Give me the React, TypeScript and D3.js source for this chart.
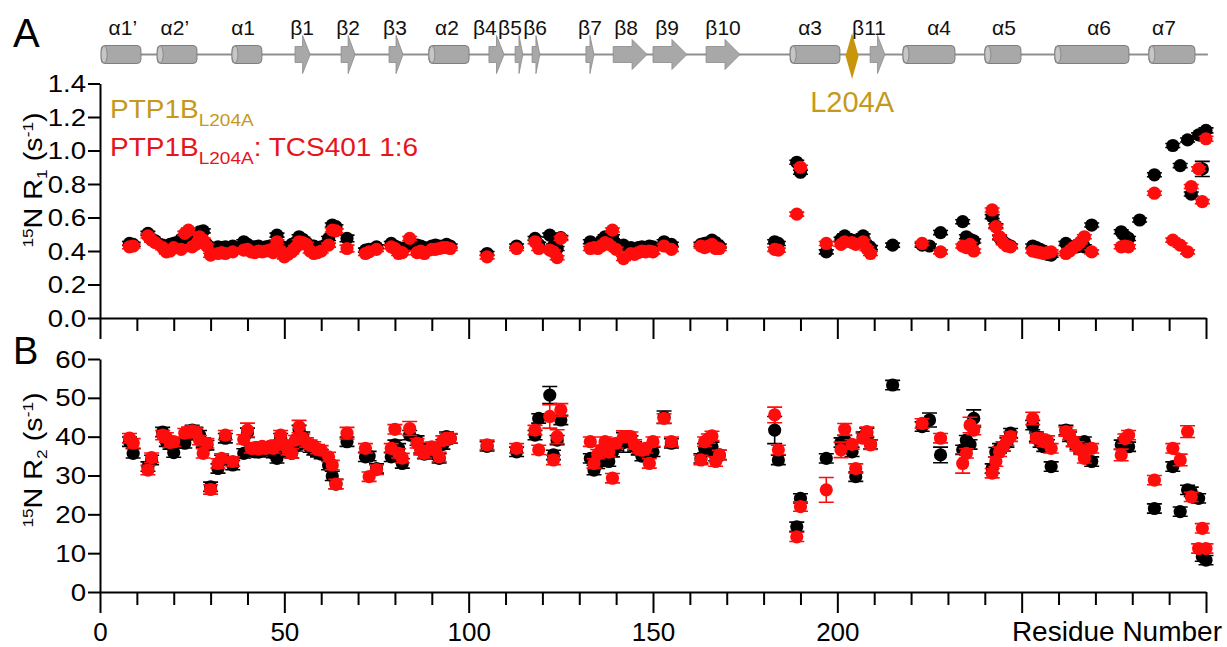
import { useEffect, useRef } from "react";
import * as d3 from "d3";

const FONT = "'Liberation Sans', Arial, Helvetica, sans-serif";
const gold = "#c49a1c";
const red = "#ff0d0d";
const txtRed = "#e8141c";

// secondary structure: [label, start residue, end residue, label anchor residue]
const helices: [string, number, number, number][] = [
    ["α1’", 0.3, 11.1, 6.2],
    ["α2’", 15.5, 26.3, 20.3],
    ["α1", 35.8, 43.9, 38.8],
    ["α2", 89.2, 100.1, 94.1],
    ["α3", 187.2, 200.7, 192.6],
    ["α4", 217.8, 231.9, 227.6],
    ["α5", 240, 249.8, 245.2],
    ["α6", 259, 279.1, 271],
    ["α7", 284.5, 297, 288.6],
];
const strands: [string, number, number, number][] = [
    ["β1", 52.9, 57, 54.8],
    ["β2", 65.4, 69.2, 67.3],
    ["β3", 78.4, 82.2, 80],
    ["β4", 105.5, 109.6, 104.4],
    ["β5", 112.6, 114.7, 111.2],
    ["β6", 117.2, 119.3, 118],
    ["β7", 131.8, 134, 132.9],
    ["β8", 139.2, 148.4, 142.7],
    ["β9", 150, 159.2, 153.8],
    ["β10", 164.4, 173.6, 169],
    ["β11", 208.9, 212.9, 208.6],
];
const mutationSite = 204;

// [residue, value, error?]  R1 (s-1)
const r1Black: number[][] = [
    [8, 0.445], [9, 0.44], [13, 0.505], [14, 0.47], [15, 0.46], [17, 0.435], [18, 0.415], [19, 0.44],
    [20, 0.445], [22, 0.47], [23, 0.48], [24, 0.47], [25, 0.445], [26, 0.5], [27, 0.515], [28, 0.52],
    [29, 0.44], [30, 0.415], [32, 0.425], [33, 0.42], [34, 0.425], [36, 0.43], [39, 0.455], [40, 0.44],
    [41, 0.425], [42, 0.425], [43, 0.43], [44, 0.42], [45, 0.425], [46, 0.43], [47, 0.42], [48, 0.495],
    [49, 0.43], [50, 0.415], [51, 0.42], [52, 0.44], [53, 0.45], [54, 0.485], [55, 0.47], [56, 0.45],
    [57, 0.425], [58, 0.43], [59, 0.42], [60, 0.425], [62, 0.475], [63, 0.555], [64, 0.545], [67, 0.475, 0.02],
    [72, 0.405], [73, 0.41], [75, 0.425], [79, 0.445], [80, 0.43], [81, 0.42], [82, 0.41], [84, 0.44],
    [86, 0.435], [87, 0.43], [88, 0.42], [90, 0.43], [91, 0.435], [92, 0.43], [93, 0.43], [94, 0.44],
    [95, 0.43], [105, 0.385], [113, 0.43], [118, 0.475], [119, 0.44], [122, 0.495], [123, 0.43], [124, 0.415],
    [125, 0.48], [133, 0.455], [134, 0.43], [135, 0.44], [136, 0.46], [137, 0.485], [138, 0.47], [139, 0.485],
    [140, 0.44], [142, 0.435], [144, 0.42], [145, 0.41], [146, 0.42], [147, 0.425], [148, 0.415], [149, 0.43],
    [150, 0.425], [153, 0.455], [155, 0.44], [163, 0.44], [164, 0.445], [165, 0.45], [166, 0.465], [167, 0.45],
    [168, 0.43], [183, 0.455], [184, 0.445], [189, 0.93], [190, 0.87], [197, 0.395], [201, 0.47], [202, 0.49],
    [204, 0.465], [205, 0.46], [207, 0.49], [208, 0.44], [209, 0.42], [215, 0.435], [223, 0.435], [225, 0.43],
    [228, 0.51], [234, 0.575], [235, 0.485], [236, 0.47], [237, 0.46], [242, 0.605], [243, 0.55], [244, 0.48],
    [245, 0.455], [246, 0.44], [247, 0.43], [253, 0.43], [254, 0.42], [255, 0.41], [256, 0.4], [257, 0.38],
    [258, 0.375], [262, 0.445], [263, 0.43], [264, 0.425], [265, 0.425], [266, 0.43], [267, 0.425], [269, 0.555],
    [277, 0.515], [278, 0.49], [279, 0.475], [282, 0.585], [286, 0.855], [291, 1.03], [293, 0.91], [295, 1.063],
    [296, 0.74], [298, 1.093], [299, 0.89, 0.045], [300, 1.12, 0.015],
];
const r1Red: number[][] = [
    [8, 0.425], [9, 0.43], [13, 0.49], [14, 0.465], [15, 0.45], [17, 0.42], [18, 0.395], [19, 0.4],
    [20, 0.42], [22, 0.41], [23, 0.505], [24, 0.525], [25, 0.425], [26, 0.44], [27, 0.485], [28, 0.465],
    [29, 0.43], [30, 0.375], [32, 0.385], [33, 0.39], [34, 0.385], [36, 0.395], [39, 0.405], [40, 0.41],
    [41, 0.395], [42, 0.39], [43, 0.4], [44, 0.395], [45, 0.4], [46, 0.405], [47, 0.39], [48, 0.455],
    [49, 0.4], [50, 0.365], [51, 0.38], [52, 0.395], [53, 0.42], [54, 0.455], [55, 0.45], [56, 0.44],
    [57, 0.4], [58, 0.385], [59, 0.39], [60, 0.4], [62, 0.435], [63, 0.525], [64, 0.52], [67, 0.415, 0.02],
    [72, 0.385], [73, 0.395], [75, 0.41], [79, 0.425], [80, 0.415], [81, 0.385], [82, 0.39], [84, 0.475],
    [86, 0.39], [87, 0.4], [88, 0.385], [90, 0.41], [91, 0.41], [92, 0.415], [93, 0.42], [94, 0.42],
    [95, 0.415], [105, 0.365], [113, 0.415], [118, 0.455], [119, 0.415], [122, 0.405], [123, 0.395], [124, 0.36],
    [125, 0.475], [133, 0.415], [134, 0.42], [135, 0.415], [136, 0.43], [137, 0.45], [138, 0.44], [139, 0.525],
    [140, 0.41], [142, 0.355], [144, 0.385], [145, 0.38], [146, 0.39], [147, 0.4], [148, 0.395], [149, 0.4],
    [150, 0.395], [153, 0.43], [155, 0.41], [163, 0.43], [164, 0.42], [165, 0.43], [166, 0.44], [167, 0.415],
    [168, 0.415], [183, 0.41], [184, 0.405], [189, 0.62], [190, 0.9], [197, 0.445], [201, 0.44], [202, 0.455],
    [204, 0.45], [205, 0.44], [207, 0.455], [208, 0.415], [209, 0.385], [223, 0.445], [228, 0.395], [234, 0.43],
    [235, 0.42], [236, 0.44], [237, 0.4], [242, 0.645], [243, 0.545], [244, 0.485], [245, 0.45], [246, 0.43],
    [247, 0.425], [253, 0.4], [254, 0.395], [255, 0.39], [256, 0.385], [257, 0.39], [258, 0.395], [262, 0.385],
    [263, 0.4], [264, 0.42], [265, 0.435], [266, 0.455], [267, 0.485], [269, 0.395], [277, 0.425], [278, 0.43],
    [279, 0.425], [286, 0.745], [291, 0.465], [293, 0.435], [295, 0.395], [296, 0.785], [298, 0.89], [299, 0.695],
    [300, 1.07, 0.015],
];

// [residue, value, error?]  R2 (s-1)
const r2Black: number[][] = [
    [8, 38.7], [9, 35.7], [13, 32.3], [14, 34], [17, 41.2], [18, 38.7], [19, 38], [20, 35.9],
    [23, 38.3], [24, 40.5], [25, 41.7], [26, 41.2], [27, 40.4], [28, 38.5], [29, 37.8], [30, 27.1],
    [32, 31.8], [33, 34], [34, 39.6], [36, 32.7], [39, 35.7], [40, 41], [41, 36.5], [42, 36.1],
    [43, 36], [44, 37.2], [45, 36.5], [46, 37], [47, 35.8], [48, 34.4], [49, 39.6], [50, 37],
    [51, 36], [52, 35.7], [53, 37.5], [54, 41.7], [55, 40], [56, 38], [57, 37.2], [58, 36.5],
    [59, 36], [60, 35.5], [62, 32.7], [63, 29.9], [64, 27.8], [67, 38.7], [72, 34.8], [73, 35],
    [75, 31.8], [79, 34.8], [80, 37.9], [81, 37], [82, 33.1], [84, 40.4], [86, 39], [87, 37],
    [88, 35.5], [90, 36], [91, 35.5], [92, 34.4], [93, 38], [94, 40], [95, 39.5], [105, 37.5],
    [113, 36.1], [118, 40.4], [119, 44.7], [122, 50.7, 2.2], [123, 35.3], [124, 39.1], [125, 44.3], [133, 34.4],
    [134, 31.4], [135, 33], [136, 35], [137, 36], [138, 33.6], [139, 36], [140, 37.6], [142, 38.5, 2.5],
    [144, 39], [145, 37.5], [146, 36.5], [147, 35], [148, 35.5], [149, 36], [150, 36.1], [153, 45, 1.6],
    [155, 38.3], [163, 34.4], [164, 37], [165, 36.5], [166, 37.4], [167, 35], [168, 35.3], [183, 41.7, 3.5],
    [184, 34], [189, 16.8], [190, 24.1], [197, 34.4], [201, 38.5], [202, 39.1], [204, 36.1], [205, 29.7],
    [207, 40], [208, 41], [209, 38], [215, 53.3], [223, 42.6], [225, 44.3, 1.8], [228, 35.3, 2], [234, 36.6],
    [235, 39.1], [236, 38], [237, 44.7, 2.2], [242, 31.8], [243, 36], [244, 37], [245, 37.5], [246, 38.5],
    [247, 40.9], [253, 43], [254, 40], [255, 38.5], [256, 37.4], [257, 38], [258, 32.3], [262, 41.7],
    [263, 40], [264, 38.7], [265, 38], [266, 37], [267, 38.7], [269, 33.6], [277, 37.9], [278, 38.5],
    [279, 37.4], [286, 21.5], [291, 32.3], [293, 20.7], [295, 26.3], [296, 25.8], [298, 24.1], [299, 9.1],
    [300, 8.2],
];
const r2Red: number[][] = [
    [8, 39.6], [9, 38.3], [13, 31.4], [14, 34.6], [17, 40.4], [18, 39.8], [19, 38.5], [20, 38.7],
    [23, 40.9], [24, 41.3], [25, 41.5], [26, 41], [27, 39.1], [28, 35.7], [29, 38.3], [30, 26.4],
    [32, 33.1], [33, 34.4], [34, 40.4], [36, 33.6], [39, 39.3], [40, 41.7, 1.8], [41, 37], [42, 37.2],
    [43, 36.8], [44, 37.5], [45, 37], [46, 37.5], [47, 37], [48, 37.9], [49, 40.4], [50, 37.9],
    [51, 36.5], [52, 35.7], [53, 39.1], [54, 42.6, 1.6], [55, 39.5], [56, 38.5], [57, 37.9], [58, 37.5],
    [59, 36.8], [60, 36.5], [62, 34.8], [63, 32.7], [64, 27.8], [67, 40.9, 1.5], [72, 37], [73, 29.7],
    [75, 31.5], [79, 37], [80, 41.9], [81, 35.7], [82, 34.5], [84, 42.1, 1.8], [86, 38.3], [87, 36.5],
    [88, 35.7], [90, 37.4], [91, 36.5], [92, 34.8], [93, 39], [94, 39.6], [95, 39.6], [105, 37.9],
    [113, 37], [118, 41.7], [119, 36.6], [122, 45.2, 3], [123, 34], [124, 40, 1.8], [125, 46.9, 1.6], [133, 38.7],
    [134, 33.1], [135, 35.5], [136, 36.6], [137, 38.7], [138, 36], [139, 29.3], [140, 38.3], [142, 40, 1.5],
    [144, 40], [145, 38], [146, 37], [147, 36.5], [148, 37], [149, 33.1], [150, 38.7], [153, 44.7],
    [155, 38.7], [163, 34], [164, 38.7], [165, 39.5], [166, 40.2], [167, 33.6], [168, 35.3], [183, 45.6, 2],
    [184, 36.6], [189, 14.2], [190, 22], [197, 26.3, 3.2], [201, 36.6, 2], [202, 41.9, 1.5], [204, 38], [205, 31.8],
    [207, 39.6], [208, 41.3], [209, 37.9], [223, 43.4], [228, 39.6], [234, 33.1, 2.5], [235, 35.7], [236, 43, 2],
    [237, 41.7], [242, 30.6], [243, 33.6], [244, 36.1], [245, 37.5], [246, 39], [247, 40], [253, 44.7, 1.6],
    [254, 39.6], [255, 39.5], [256, 38.7], [257, 39], [258, 37], [262, 41.3], [263, 40.5], [264, 38.7],
    [265, 37.5], [266, 36.6], [267, 34.4], [269, 37], [277, 35.3, 1.5], [278, 39.5], [279, 40.4], [286, 28.8],
    [291, 37], [293, 34, 1.5], [295, 41.3, 1.5], [296, 24.5], [298, 11.2], [299, 16.4], [300, 11.2],
];

function App() {
    const svgRef = useRef<SVGSVGElement>(null);

    useEffect(() => {
        const svg = d3.select(svgRef.current);
        svg.selectAll("*").remove();

        const x = d3.scaleLinear().domain([0, 300]).range([100, 1206]);
        const yA = d3.scaleLinear().domain([0, 1.4]).range([318, 83.5]);
        const yB = d3.scaleLinear().domain([0, 60]).range([592, 359]);

        // ---------- secondary structure strip ----------
        const ss = svg.append("g");
        const cy = 54.5;
        ss.append("line")
            .attr("x1", x(0.3)).attr("x2", x(300.5))
            .attr("y1", cy).attr("y2", cy)
            .attr("stroke", "#8f8f8f").attr("stroke-width", 2);

        helices.forEach(([, s, e]) => {
            ss.append("rect")
                .attr("x", x(s)).attr("y", cy - 9)
                .attr("width", x(e) - x(s)).attr("height", 18)
                .attr("rx", 4)
                .attr("fill", "#a8a8a8").attr("stroke", "#7d7d7d").attr("stroke-width", 1);
            ss.append("ellipse")
                .attr("cx", x(s) + 3).attr("cy", cy)
                .attr("rx", 3).attr("ry", 8.5)
                .attr("fill", "#c6c6c6").attr("stroke", "#7d7d7d").attr("stroke-width", 0.8);
        });

        strands.forEach(([, s, e]) => {
            const x0 = x(s), x1 = x(e);
            const w = x1 - x0;
            const head = Math.min(15, w * 0.5);
            const hh = w > 25 ? 15 : 19;
            const p = d3.path();
            p.moveTo(x0, cy - 8);
            p.lineTo(x1 - head, cy - 8);
            p.lineTo(x1 - head, cy - hh);
            p.lineTo(x1, cy);
            p.lineTo(x1 - head, cy + hh);
            p.lineTo(x1 - head, cy + 8);
            p.lineTo(x0, cy + 8);
            p.closePath();
            ss.append("path").attr("d", p.toString())
                .attr("fill", "#a8a8a8").attr("stroke", "#8a8a8a").attr("stroke-width", 0.8);
        });

        const mx = x(mutationSite);
        ss.append("path")
            .attr("d", `M${mx},33L${mx + 6.5},56L${mx},79L${mx - 6.5},56Z`)
            .attr("fill", "#c8960c");

        [...helices, ...strands].forEach(([label, , , at]) => {
            ss.append("text")
                .attr("x", x(at)).attr("y", 35)
                .attr("text-anchor", "middle")
                .attr("font-family", FONT).attr("font-size", 21)
                .attr("fill", "#111")
                .text(label);
        });

        svg.append("text")
            .attr("x", mx).attr("y", 112)
            .attr("text-anchor", "middle")
            .attr("font-family", FONT).attr("font-size", 29)
            .attr("fill", gold)
            .text("L204A");

        // ---------- panel letters ----------
        svg.append("text").attr("x", 13).attr("y", 47)
            .attr("font-family", FONT).attr("font-size", 40).text("A");
        svg.append("text").attr("x", 13).attr("y", 364)
            .attr("font-family", FONT).attr("font-size", 38).text("B");

        // ---------- axes ----------
        function yAxis(scale: d3.ScaleLinear<number, number>, fmt: (d: number) => string, n: number) {
            const g = svg.append("g").attr("transform", "translate(100,0)")
                .call(d3.axisLeft(scale).ticks(n).tickSize(12).tickSizeOuter(0).tickFormat(fmt as any));
            g.select(".domain").attr("stroke-width", 2);
            g.selectAll(".tick line").attr("stroke-width", 2);
            g.selectAll(".tick text")
                .attr("x", null).attr("dy", "0.35em")
                .attr("transform", "translate(-14,0) scale(1.2,1)")
                .attr("font-family", FONT).attr("font-size", 23).attr("fill", "#000");
            return g;
        }
        function xAxis(yPos: number, labelled: boolean) {
            const g = svg.append("g").attr("transform", `translate(0,${yPos})`)
                .call(
                    d3.axisBottom(x)
                        .tickValues(d3.range(0, 301, 10))
                        .tickSize(13).tickSizeOuter(0)
                        .tickFormat((d: any) => (labelled && d % 50 === 0 && d <= 200 ? String(d) : ""))
                );
            g.select(".domain").attr("stroke-width", 2);
            g.selectAll<SVGLineElement, number>(".tick line")
                .attr("stroke-width", 2)
                .attr("y2", (d) => (d % 50 === 0 ? 21 : 13));
            g.selectAll(".tick text")
                .attr("dy", null).attr("y", 49)
                .attr("font-family", FONT).attr("font-size", 26).attr("fill", "#000");
            return g;
        }

        xAxis(318, false);
        xAxis(592, true);
        yAxis(yA, d3.format(".1f") as any, 7);
        yAxis(yB, d3.format("d") as any, 6);

        svg.append("text")
            .attr("x", 1222).attr("y", 641)
            .attr("text-anchor", "end")
            .attr("font-family", FONT).attr("font-size", 28)
            .text("Residue Number");

        // ---------- axis titles ----------
        function yTitle(cx: number, cyy: number, sub: string) {
            const t = svg.append("text")
                .attr("transform", `translate(${cx},${cyy}) rotate(-90) scale(1.15,1)`)
                .attr("text-anchor", "middle")
                .attr("font-family", FONT).attr("font-size", 25).attr("fill", "#000");
            t.append("tspan").attr("font-size", 15).attr("dy", -9).text("15");
            t.append("tspan").attr("dy", 9).text("N R");
            t.append("tspan").attr("font-size", 15).attr("dy", 5).text(sub);
            t.append("tspan").attr("dy", -5).text(" (s");
            t.append("tspan").attr("font-size", 15).attr("dy", -9).text("-1");
            t.append("tspan").attr("dy", 9).text(")");
        }
        yTitle(42, 180, "1");
        yTitle(42, 460, "2");

        // ---------- legend ----------
        const l1 = svg.append("text")
            .attr("transform", "translate(110,118) scale(1.12,1)")
            .attr("font-family", FONT).attr("font-size", 25).attr("fill", gold);
        l1.append("tspan").text("PTP1B");
        l1.append("tspan").attr("font-size", 17).attr("dy", 8).text("L204A");

        const l2 = svg.append("text")
            .attr("transform", "translate(110,156) scale(1.12,1)")
            .attr("font-family", FONT).attr("font-size", 25).attr("fill", txtRed);
        l2.append("tspan").text("PTP1B");
        l2.append("tspan").attr("font-size", 17).attr("dy", 8).text("L204A");
        l2.append("tspan").attr("dy", -8).text(": TCS401 1:6");

        // ---------- data ----------
        function series(data: number[][], y: d3.ScaleLinear<number, number>, color: string, defErr: number) {
            const g = svg.append("g");
            const pts = data.map((d) => ({ r: d[0], v: d[1], e: d.length > 2 ? d[2] : defErr }));
            g.selectAll(".eb").data(pts).enter().append("path")
                .attr("d", (d) => {
                    const cx0 = x(d.r), t = y(d.v + d.e), b = y(d.v - d.e);
                    return `M${cx0},${t}V${b}M${cx0 - 7.5},${t}H${cx0 + 7.5}M${cx0 - 7.5},${b}H${cx0 + 7.5}`;
                })
                .attr("stroke", color).attr("stroke-width", 1.6).attr("fill", "none");
            g.selectAll(".dot").data(pts).enter().append("circle")
                .attr("cx", (d) => x(d.r))
                .attr("cy", (d) => y(d.v))
                .attr("r", 6.6)
                .attr("fill", color);
        }

        series(r1Black, yA, "#000", 0.012);
        series(r1Red, yA, red, 0.012);
        series(r2Black, yB, "#000", 1.2);
        series(r2Red, yB, red, 1.2);
    }, []);

    return (
        <svg
            ref={svgRef}
            width={1227}
            height={647}
            style={{ position: "absolute", left: 0, top: 0, background: "#fff" }}
        />
    );
}

export default App;
